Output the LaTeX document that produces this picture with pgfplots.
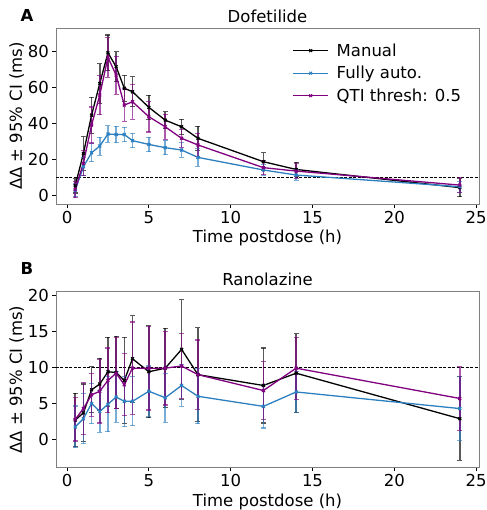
\documentclass[border=0pt]{standalone}
\usepackage{fontspec}
\setmainfont{DejaVu Sans}
\usepackage{pgfplots}
\pgfplotsset{compat=1.18}

\definecolor{mblue}{RGB}{45,128,192}
\definecolor{mpurple}{RGB}{128,0,128}

\pgfplotsset{
  panel/.style={
    scale only axis, width=423bp, height=176bp,
    anchor=north west,
    font=\fontsize{16.5bp}{19bp}\selectfont,
    /pgf/number format/assume math mode=true,
    ticklabel style={font=\fontsize{16.5bp}{19bp}\selectfont},
    axis line style={gray, line width=0.8bp},
    tick style={black, line width=0.8bp},
    tick align=outside, major tick length=3.5bp,
    xtick pos=bottom, ytick pos=left,
    xmin=-0.675, xmax=25.175,
    xtick={0,5,...,25},
    xlabel={Time postdose (h)},
    ylabel={ΔΔ ± 95\% CI (ms)},
    ylabel style={xshift=0bp, yshift=-3bp},
    title style={yshift=-4bp},
    every axis plot/.append style={line width=1.3bp, mark=x, mark size=2bp},
    error bars/y dir=both, error bars/y explicit,
    error bars/error bar style={line width=1.5bp, opacity=0.65},
    error bars/error mark options={rotate=90, mark size=2.5bp, line width=1.1bp, opacity=0.65},
  },
}

\begin{document}
\begin{tikzpicture}
\path[use as bounding box] (-56bp,28bp) rectangle (431bp,-482bp);

\begin{axis}[panel, name=top, at={(0,0)},
  title={Dofetilide},
  ymin=-4.6, ymax=93.2, ytick={0,20,...,80},
  legend style={draw=none, fill=none, at={(0.552,0.935)}, anchor=north west,
    font=\fontsize{16.5bp}{19bp}\selectfont, row sep=4.5bp,
    nodes={inner xsep=8bp}},
  legend cell align=left,
  legend image code/.code={\draw[mark repeat=2, mark phase=2, #1, line width=1bp] plot coordinates {(0bp,0bp) (17.5bp,0bp) (35bp,0bp)};},
]
\addplot[black, line width=0.6bp, dash pattern=on 3bp off 1.5bp, mark=none, forget plot] coordinates {(-0.675,10) (25.175,10)};
\addplot[black] coordinates {
(0.5,5.5) +- (0,4)
(1,23.5) +- (0,9.3)
(1.5,44.8) +- (0,10)
(2,62.4) +- (0,11)
(2.5,79.4) +- (0,9.9)
(3,71.7) +- (0,8.3)
(3.5,59.7) +- (0,7.3)
(4,57.8) +- (0,8.3)
(5,49.1) +- (0,6.8)
(6,42) +- (0,4.7)
(7,38.3) +- (0,4.3)
(8,31.9) +- (0,6.8)
(12,18.9) +- (0,5)
(14,14.6) +- (0,4)
(24,4.5) +- (0,5)
};
\addlegendentry{Manual}
\addplot[mblue] coordinates {
(0.5,3) +- (0,3.5)
(1,16.1) +- (0,5)
(1.5,23.9) +- (0,5)
(2,27.6) +- (0,5)
(2.5,34.3) +- (0,4.5)
(3,34) +- (0,4.5)
(3.5,34) +- (0,4)
(4,30.6) +- (0,4)
(5,28.5) +- (0,4)
(6,26.7) +- (0,4)
(7,25.4) +- (0,4)
(8,21.3) +- (0,5)
(12,14.3) +- (0,3)
(14,11.5) +- (0,3)
(24,5) +- (0,3)
};
\addlegendentry{Fully auto.}
\addplot[mpurple] coordinates {
(0.5,3.5) +- (0,4.5)
(1,18) +- (0,7)
(1.5,39.3) +- (0,10)
(2,56) +- (0,11)
(2.5,76.9) +- (0,11)
(3,67) +- (0,10.6)
(3.5,50.4) +- (0,9)
(4,52.2) +- (0,9.7)
(5,43.9) +- (0,8.5)
(6,38.3) +- (0,7)
(7,31.9) +- (0,5)
(8,28.2) +- (0,6.5)
(12,15.6) +- (0,4)
(14,13.7) +- (0,4)
(24,5.9) +- (0,4)
};
\addlegendentry{QTI thresh: 0.5}
\end{axis}

\begin{axis}[panel, name=bot, at={(0,-263.7bp)},
  title={Ranolazine},
  ymin=-3.9, ymax=20.5, ytick={0,5,...,20},
]
\addplot[black, line width=0.6bp, dash pattern=on 3bp off 1.5bp, mark=none, forget plot] coordinates {(-0.675,10) (25.175,10)};
\addplot[black] coordinates {
(0.5,2.7) +- (0,3.7)
(1,3.7) +- (0,4)
(1.5,6.9) +- (0,3.2)
(2,7.7) +- (0,3.6)
(2.5,9.4) +- (0,4.8)
(3,9.3) +- (0,5)
(3.5,8.2) +- (0,6)
(4,11.2) +- (0,6)
(5,9.4) +- (0,6.4)
(6,9.9) +- (0,5.5)
(7,12.5) +- (0,6.9)
(8,9.0) +- (0,6.5)
(12,7.5) +- (0,5.2)
(14,9.2) +- (0,5.5)
(24,2.9) +- (0,5.8)
};
\addplot[mblue] coordinates {
(0.5,1.75) +- (0,2.9)
(1,2.9) +- (0,3.5)
(1.5,5.0) +- (0,2.8)
(2,3.9) +- (0,2.9)
(2.5,4.9) +- (0,3.8)
(3,5.9) +- (0,3.5)
(3.5,5.3) +- (0,3.5)
(4,5.3) +- (0,3.4)
(5,6.7) +- (0,3.5)
(6,5.8) +- (0,3.4)
(7,7.5) +- (0,2.9)
(8,6.0) +- (0,3.8)
(12,4.6) +- (0,3)
(14,6.6) +- (0,2.8)
(24,4.3) +- (0,4.4)
};
\addplot[mpurple] coordinates {
(0.5,2.8) +- (0,3)
(1,4.3) +- (0,3.6)
(1.5,6.2) +- (0,3)
(2,6.7) +- (0,4.4)
(2.5,8.2) +- (0,4.5)
(3,9.2) +- (0,4.9)
(3.5,7.6) +- (0,4.3)
(4,9.9) +- (0,6.4)
(5,9.9) +- (0,5.8)
(6,9.9) +- (0,5.1)
(7,10.2) +- (0,4.5)
(8,9.0) +- (0,4.8)
(12,6.8) +- (0,4)
(14,9.9) +- (0,4.3)
(24,5.7) +- (0,4.4)
};
\end{axis}

\node[font=\fontsize{16.5bp}{19bp}\selectfont\bfseries] at ([shift={(-29bp,13bp)}]top.north west) {A};
\node[font=\fontsize{16.5bp}{19bp}\selectfont\bfseries] at ([shift={(-29bp,23.7bp)}]bot.north west) {B};
\end{tikzpicture}
\end{document}
